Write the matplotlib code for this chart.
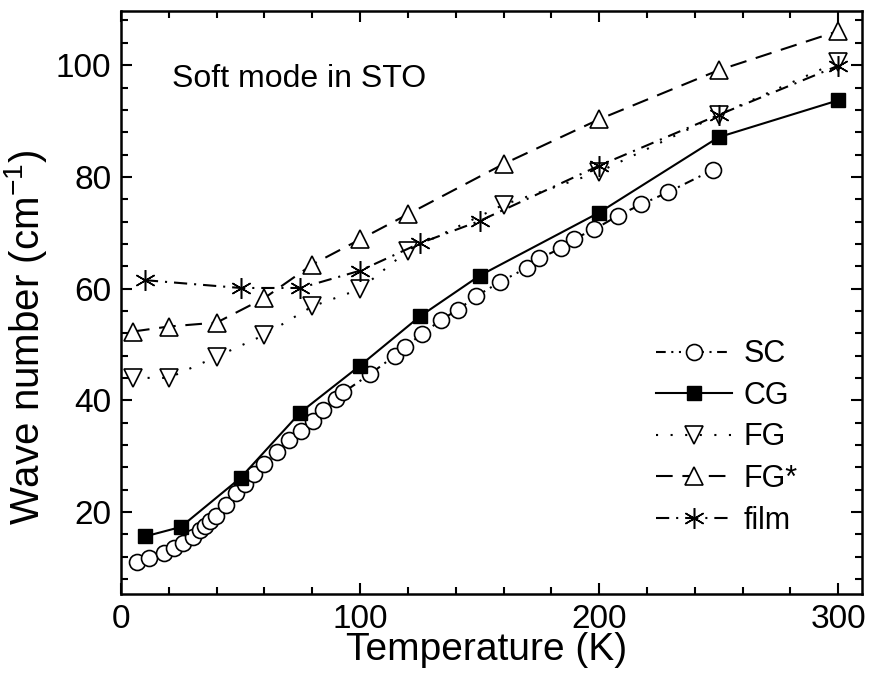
import numpy as np
import matplotlib
matplotlib.use("Agg")
from matplotlib import pyplot as plt
from matplotlib.ticker import MultipleLocator

# 数据 (温度 K, 波数 cm-1)
sc_t = [6.8, 11.8, 18.0, 22.3, 26.1, 30.3, 33.1, 35.1, 37.2, 39.7, 43.9, 48.1,
        51.9, 55.8, 60.0, 65.1, 70.2, 75.1, 80.2, 84.6, 90.0, 93.0, 104.2,
        114.6, 118.8, 125.8, 133.9, 140.9, 148.5, 158.6, 169.7, 175.0, 184.0,
        189.5, 198.0, 207.7, 217.7, 228.6, 247.8]
sc_w = [11.0, 11.8, 12.6, 13.5, 14.4, 15.5, 16.8, 17.4, 18.3, 19.2, 21.3, 23.3,
        25.0, 26.7, 28.6, 30.8, 32.8, 34.5, 36.3, 38.3, 40.2, 41.4, 44.7,
        48.0, 49.6, 51.8, 54.4, 56.2, 58.6, 61.2, 63.7, 65.4, 67.2,
        68.9, 70.6, 73.0, 75.1, 77.2, 81.3]

cg_t = [10, 25, 50, 75, 100, 125, 150, 200, 250, 300]
cg_w = [15.6, 17.3, 26.1, 37.8, 46.2, 55.0, 62.3, 73.6, 87.1, 93.7]

fg_t = [5, 20, 40, 60, 80, 100, 120, 160, 200, 250, 300]
fg_w = [44.0, 44.0, 47.8, 51.7, 56.8, 59.9, 66.8, 75.0, 80.9, 91.1, 100.6]

fgs_t = [5, 20, 40, 60, 80, 100, 120, 160, 200, 250, 300]
fgs_w = [52.3, 53.2, 53.9, 58.3, 64.3, 68.8, 73.3, 82.3, 90.3, 99.1, 106.1]

film_t = [10, 50, 75, 100, 125, 150, 200, 250, 300]
film_w = [61.5, 60.1, 60.1, 63.2, 68.1, 72.1, 82.0, 91.1, 99.9]

plt.rcParams['font.family'] = ['Liberation Sans', 'DejaVu Sans']
plt.rcParams['mathtext.fontset'] = 'custom'
plt.rcParams['mathtext.rm'] = 'Liberation Sans'
plt.rcParams['lines.scale_dashes'] = False

fig = plt.figure(figsize=(8.77, 6.79), dpi=100)
ax = fig.add_axes([0.138, 0.1252, 0.845, 0.8586])

lw = 1.5
ax.plot(sc_t, sc_w, color='k', lw=lw, dashes=(7, 4, 1.5, 4, 1.5, 4),
        marker='o', ms=11.5, mfc='white', mec='k', mew=1.2, label='SC')
ax.plot(cg_t, cg_w, color='k', lw=lw, ls='-',
        marker='s', ms=10, mfc='k', mec='k', label='CG')
ax.plot(fg_t, fg_w, color='k', lw=lw, dashes=(1.5, 9),
        marker='v', ms=12.5, mfc='white', mec='k', mew=1.2, label='FG')
ax.plot(fgs_t, fgs_w, color='k', lw=lw, dashes=(12, 7),
        marker='^', ms=12.5, mfc='white', mec='k', mew=1.2, label='FG*')
ax.plot(film_t, film_w, color='k', lw=lw, dashes=(9.5, 5, 1.5, 5),
        marker=(6, 2, 0), ms=15, mec='k', mew=1.1, label='film')

ax.set_xlim(0, 310)
ax.set_ylim(5.3, 109.7)
ax.xaxis.set_major_locator(MultipleLocator(100))
ax.xaxis.set_minor_locator(MultipleLocator(20))
ax.yaxis.set_major_locator(MultipleLocator(20))
ax.yaxis.set_minor_locator(MultipleLocator(4))
ax.tick_params(which='both', direction='in', top=True, right=True,
               width=1.5, labelsize=24)
ax.tick_params(which='major', length=8, pad=7)
ax.tick_params(which='minor', length=5)
for s in ax.spines.values():
    s.set_linewidth(1.8)

ax.set_xlabel('Temperature (K)', fontsize=28)
ax.set_ylabel('Wave number (cm$^{-1}$)', fontsize=29)
ax.xaxis.set_label_coords(0.493, -0.065)
ax.yaxis.set_label_coords(-0.097, 0.44)

ax.text(21.3, 96.1, 'Soft mode in STO', fontsize=23, va='baseline', ha='left')

leg = ax.legend(loc='upper left', bbox_to_anchor=(0.722, 0.437), frameon=False,
                fontsize=22, handlelength=2.5, handletextpad=0.35,
                labelspacing=0.38, borderaxespad=0, borderpad=0)

fig.savefig('out.png', dpi=100)
